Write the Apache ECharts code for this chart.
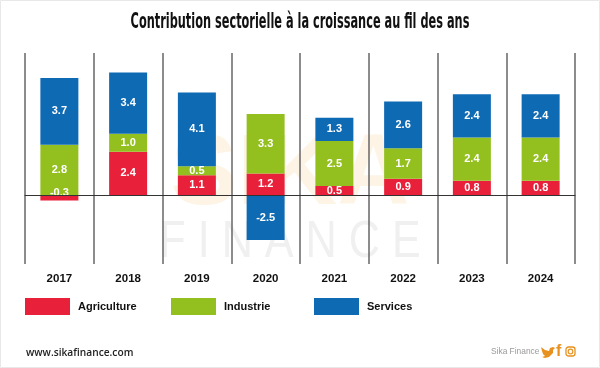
<!DOCTYPE html>
<html>
<head>
<meta charset="utf-8">
<style>
html, body { margin: 0; padding: 0; background: #fff; }
#chart { width: 600px; height: 368px; }
</style>
<script src="https://cdn.jsdelivr.net/npm/echarts@6/dist/echarts.min.js"></script>
</head>
<body>
<div id="chart"></div>
<script>
var years = ['2017', '2018', '2019', '2020', '2021', '2022', '2023', '2024'];
var agriculture = [-0.3, 2.4, 1.1, 1.2, 0.5, 0.9, 0.8, 0.8];
var industrie = [2.8, 1.0, 0.5, 3.3, 2.5, 1.7, 2.4, 2.4];
var services = [3.7, 3.4, 4.1, -2.5, 1.3, 2.6, 2.4, 2.4];

var labelFont = '"Liberation Sans", sans-serif';
var orange = '#e8911e';

function barSeries(name, values, color) {
    return {
        name: name,
        type: 'bar',
        stack: 'total',
        barWidth: 38,
        itemStyle: { color: color },
        label: {
            show: true,
            position: 'inside',
            color: '#fff',
            fontFamily: labelFont,
            fontWeight: 'bold',
            fontSize: 11,
            formatter: function (p) { return p.value.toFixed(1); }
        },
        // the small negative value sits on the zero line in the original
        labelLayout: function (params) {
            return params.rect.height < 7 ? { dy: -5 } : {};
        },
        data: values
    };
}

function legendEntry(name, left) {
    return {
        left: left,
        top: 298,
        padding: 0,
        itemWidth: 45,
        itemHeight: 17,
        itemGap: 0,
        data: [{ name: name, icon: 'rect' }],
        textStyle: {
            color: '#111',
            fontFamily: labelFont,
            fontWeight: 'bold',
            fontSize: 11,
            padding: [0, 0, 0, 3]
        }
    };
}

var chart = echarts.init(document.getElementById('chart'));
chart.setOption({
    animation: false,
    backgroundColor: '#fff',
    legend: [
        legendEntry('Agriculture', 25),
        legendEntry('Industrie', 171),
        legendEntry('Services', 314)
    ],
    grid: { left: 25, right: 25, top: 53, bottom: 104 },
    xAxis: [{
        type: 'category',
        data: years,
        position: 'bottom',
        axisLine: { show: false, onZero: false },
        axisTick: { show: false },
        axisLabel: {
            color: '#111',
            fontFamily: labelFont,
            fontWeight: 'bold',
            fontSize: 11.5,
            margin: 9
        },
        splitLine: { show: true, lineStyle: { color: '#666', width: 1.5 } }
    }, {
        // the zero line crossing the bars
        type: 'category',
        data: years,
        z: 5,
        axisLine: { show: true, onZero: true, lineStyle: { color: '#333', width: 1 } },
        axisTick: { show: false },
        axisLabel: { show: false },
        splitLine: { show: false }
    }],
    yAxis: { type: 'value', min: -3.83, max: 7.89, show: false },
    series: [
        barSeries('Agriculture', agriculture, '#e8203a'),
        barSeries('Industrie', industrie, '#93c01f'),
        barSeries('Services', services, '#0f6ab4')
    ],
    graphic: [
        { type: 'rect', z: -10, shape: { x: 0.5, y: 0.5, width: 599, height: 367 }, style: { fill: 'none', stroke: '#e8e8e8' } },
        { type: 'text', z: 10, x: 300, y: 23, scaleX: 0.6, style: { text: 'Contribution sectorielle à la croissance au fil des ans', fill: '#111', font: 'bold 21px "DejaVu Sans Condensed"', align: 'center', verticalAlign: 'middle' } },
        { type: 'text', z: -5, x: 290, y: 176, style: { text: 'SIKA', fill: '#fdf4e6', font: '900 100px "Liberation Sans"', align: 'center', verticalAlign: 'middle' } },
        { type: 'text', z: -5, x: 290, y: 243, scaleX: 0.83, style: { text: 'F I N A N C E', fill: '#f0f0f0', font: '52px "Liberation Sans"', align: 'center', verticalAlign: 'middle' } },
        { type: 'text', x: 26, y: 353, style: { text: 'www.sikafinance.com', fill: '#222', font: '600 10.2px "Open Sans"', verticalAlign: 'middle' } },
        { type: 'text', x: 491, y: 352, style: { text: 'Sika Finance', fill: '#999', font: '8.4px "Liberation Sans"', verticalAlign: 'middle' } },
        { type: 'polygon', shape: { points: [[541, 347], [545, 350], [549, 351], [550, 348], [553, 347], [555, 348], [553, 350], [553, 353], [549, 357], [545, 358], [542, 357], [545, 356], [543, 354], [542, 351]] }, style: { fill: orange } },
        { type: 'text', x: 556, y: 352, style: { text: 'f', fill: orange, font: 'bold 16px "Liberation Sans"', verticalAlign: 'middle' } },
        { type: 'rect', x: 566, y: 347, shape: { width: 9, height: 9, r: 2.5 }, style: { fill: 'none', stroke: orange, lineWidth: 1.3 } },
        { type: 'circle', x: 570.5, y: 351.5, shape: { r: 2.3 }, style: { fill: 'none', stroke: orange, lineWidth: 1.2 } }
    ]
});
</script>
</body>
</html>
